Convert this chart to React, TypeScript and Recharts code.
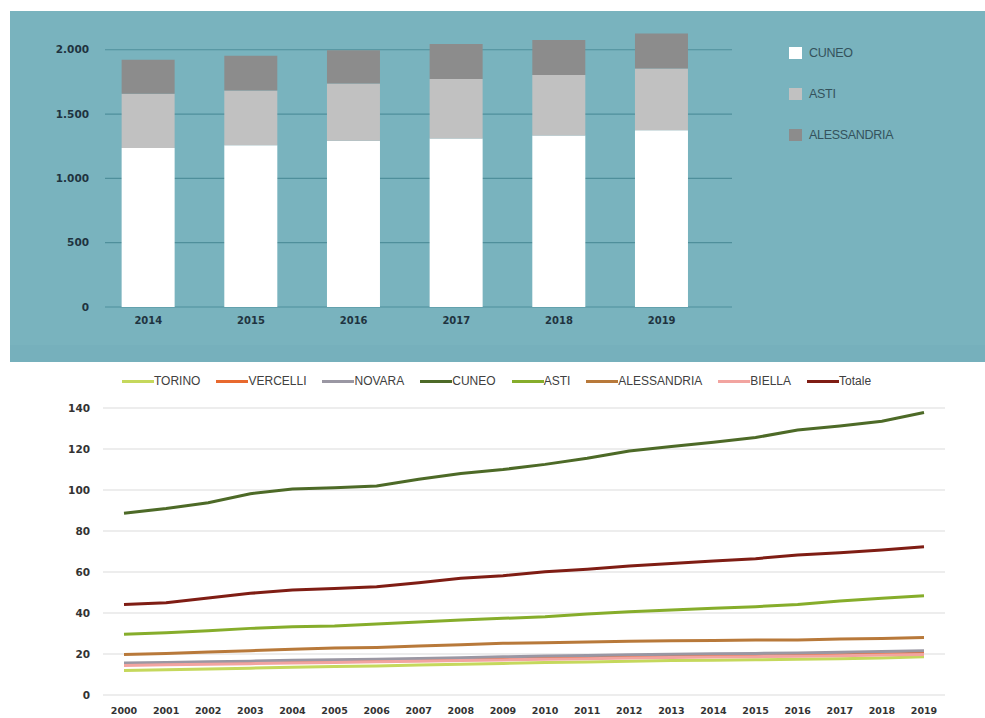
import React from 'react';
import {
  BarChart,
  Bar,
  LineChart,
  Line,
  XAxis,
  YAxis,
  CartesianGrid,
  Legend,
} from 'recharts';

// --- stacked bars (top panel) ---
const barYears = ['2014', '2015', '2016', '2017', '2018', '2019'];
const cuneoBars = [1237, 1257, 1293, 1310, 1334, 1374];
const astiBars = [420, 427, 445, 462, 469, 481];
const alessandriaBars = [265, 269, 257, 272, 272, 272];
const barTicks = [0, 500, 1000, 1500, 2000];

// --- lines (bottom panel) ---
const lineYears = [
  '2000', '2001', '2002', '2003', '2004', '2005', '2006', '2007', '2008', '2009',
  '2010', '2011', '2012', '2013', '2014', '2015', '2016', '2017', '2018', '2019',
];
const torino = [12, 12.3, 12.7, 13.1, 13.5, 13.9, 14.2, 14.6, 15, 15.4, 15.8, 16.1, 16.5, 16.8, 17, 17.2, 17.4, 17.7, 18.1, 18.6];
const vercelli = [15.2, 15.4, 15.7, 16, 16.3, 16.6, 16.8, 17.1, 17.4, 17.7, 18, 18.3, 18.6, 18.8, 19, 19.1, 19.3, 19.6, 20, 20.4];
const novara = [15.6, 15.9, 16.2, 16.5, 16.9, 17.2, 17.5, 17.8, 18.2, 18.6, 19, 19.3, 19.6, 19.9, 20.1, 20.3, 20.5, 20.8, 21.2, 21.6];
const cuneo = [88.7, 91, 93.8, 98.2, 100.5, 101.1, 102, 105.2, 108.1, 110, 112.5, 115.5, 119, 121.2, 123.3, 125.6, 129.3, 131.2, 133.5, 137.8];
const asti = [29.6, 30.4, 31.4, 32.5, 33.3, 33.7, 34.6, 35.6, 36.6, 37.4, 38.2, 39.5, 40.6, 41.5, 42.3, 43.1, 44.2, 45.9, 47.2, 48.4];
const alessandria = [19.8, 20.3, 21, 21.6, 22.3, 22.9, 23.2, 23.9, 24.5, 25.2, 25.5, 25.9, 26.2, 26.5, 26.6, 26.8, 26.8, 27.3, 27.6, 28];
const biella = [14.4, 14.7, 15, 15.3, 15.6, 15.9, 16.2, 16.5, 16.8, 17.1, 17.4, 17.7, 18, 18.3, 18.5, 18.7, 18.9, 19.2, 19.5, 19.8];
const totale = [44.2, 45, 47.3, 49.6, 51.2, 52, 52.8, 54.8, 56.9, 58.2, 60.1, 61.3, 62.9, 64.2, 65.4, 66.5, 68.3, 69.4, 70.7, 72.3];
const lineTicks = [0, 20, 40, 60, 80, 100, 120, 140];

const barData = barYears.map((year, i) => ({
  year,
  CUNEO: cuneoBars[i],
  ASTI: astiBars[i],
  ALESSANDRIA: alessandriaBars[i],
}));

const lineData = lineYears.map((year, i) => ({
  year,
  TORINO: torino[i],
  VERCELLI: vercelli[i],
  NOVARA: novara[i],
  CUNEO: cuneo[i],
  ASTI: asti[i],
  ALESSANDRIA: alessandria[i],
  BIELLA: biella[i],
  Totale: totale[i],
}));

const lineSeries = [
  { key: 'TORINO', color: '#c5d85c' },
  { key: 'VERCELLI', color: '#e8692e' },
  { key: 'NOVARA', color: '#9a97a3' },
  { key: 'CUNEO', color: '#4d6a27' },
  { key: 'ASTI', color: '#86ad2b' },
  { key: 'ALESSANDRIA', color: '#b8793a' },
  { key: 'BIELLA', color: '#f2a4a0' },
  { key: 'Totale', color: '#7f1d14' },
];

const barSeries = [
  { key: 'CUNEO', color: '#ffffff' },
  { key: 'ASTI', color: '#c1c1c1' },
  { key: 'ALESSANDRIA', color: '#8c8c8c' },
];

const formatThousands = (v: number) => String(v).replace(/\B(?=(\d{3})+(?!\d))/g, '.');

// legends keep the series order (recharts 3 sorts the payload by name otherwise)
const BarLegend = () => (
  <div style={{ display: 'flex', flexDirection: 'column', gap: 27 }}>
    {barSeries.map((s) => (
      <div key={s.key} style={{ display: 'flex', alignItems: 'center', height: 14 }}>
        <div style={{ width: 13, height: 12, background: s.color, marginRight: 7 }} />
        <span style={{ fontFamily: 'Liberation Sans, sans-serif', fontSize: 12.5, color: '#34525c', letterSpacing: -0.3 }}>
          {s.key}
        </span>
      </div>
    ))}
  </div>
);

const LineLegend = () => (
  <div style={{ display: 'flex', alignItems: 'center', gap: 16 }}>
    {lineSeries.map((s) => (
      <div key={s.key} style={{ display: 'flex', alignItems: 'center' }}>
        <div style={{ width: 32, height: 3, background: s.color }} />
        <span style={{ fontFamily: 'Liberation Sans, sans-serif', fontSize: 12, color: '#404040' }}>
          {s.key}
        </span>
      </div>
    ))}
  </div>
);

export default function App() {
  return (
    <div style={{ position: 'absolute', left: 0, top: 0, width: 985, height: 718, background: '#ffffff', overflow: 'hidden' }}>
      <div style={{ position: 'absolute', left: 10, top: 11, width: 975, height: 351, background: '#79b3be' }}>
        <div style={{ position: 'absolute', left: 0, bottom: 0, width: 975, height: 17, background: '#76b0bc' }} />
        <BarChart
          width={975}
          height={350}
          data={barData}
          margin={{ top: 13, right: 253, bottom: 0, left: 0 }}
          barCategoryGap="24%"
        >
          <CartesianGrid vertical={false} horizontalValues={barTicks} stroke="#4f8f9b" strokeWidth={1.2} />
          <XAxis
            dataKey="year"
            height={54}
            padding={{ left: -8, right: 19 }}
            axisLine={false}
            tickLine={false}
            tickMargin={4}
            tick={{ fill: '#1f3340', fontSize: 10, fontWeight: 700, fontFamily: 'DejaVu Sans, sans-serif' }}
          />
          <YAxis
            width={95}
            domain={[0, 2200]}
            ticks={barTicks}
            axisLine={false}
            tickLine={false}
            tickSize={0}
            tickMargin={16}
            tickFormatter={formatThousands}
            tick={{ fill: '#1f3340', fontSize: 10.5, fontWeight: 700, fontFamily: 'DejaVu Sans, sans-serif' }}
          />
          <Legend
            layout="vertical"
            align="center"
            verticalAlign="middle"
            content={<BarLegend />}
            wrapperStyle={{ top: 35, left: 779, width: 150 }}
          />
          {barSeries.map((s) => (
            <Bar key={s.key} dataKey={s.key} stackId="a" fill={s.color} isAnimationActive={false} />
          ))}
        </BarChart>
      </div>

      <div style={{ position: 'absolute', left: 0, top: 361, width: 985, height: 357 }}>
        <LineChart
          width={985}
          height={357}
          data={lineData}
          margin={{ top: 47, right: 40, bottom: 0, left: 0 }}
        >
          <CartesianGrid vertical={false} horizontalValues={lineTicks} stroke="#dcdcdc" strokeWidth={1.2} />
          <XAxis
            dataKey="year"
            height={23}
            padding={{ left: 21, right: 21 }}
            axisLine={false}
            tickLine={false}
            tickMargin={6}
            interval={0}
            tick={{ fill: '#333333', fontSize: 9.5, fontWeight: 700, fontFamily: 'DejaVu Sans, sans-serif' }}
          />
          <YAxis
            width={103}
            domain={[0, 140]}
            ticks={lineTicks}
            axisLine={false}
            tickLine={false}
            tickSize={0}
            tickMargin={13}
            tick={{ fill: '#333333', fontSize: 10.5, fontWeight: 700, fontFamily: 'DejaVu Sans, sans-serif' }}
          />
          <Legend
            layout="horizontal"
            align="center"
            verticalAlign="middle"
            content={<LineLegend />}
            wrapperStyle={{ top: 13, left: 122, width: 820 }}
          />
          {lineSeries.map((s) => (
            <Line
              key={s.key}
              dataKey={s.key}
              stroke={s.color}
              strokeWidth={3}
              dot={false}
              type="linear"
              isAnimationActive={false}
            />
          ))}
        </LineChart>
      </div>
    </div>
  );
}
